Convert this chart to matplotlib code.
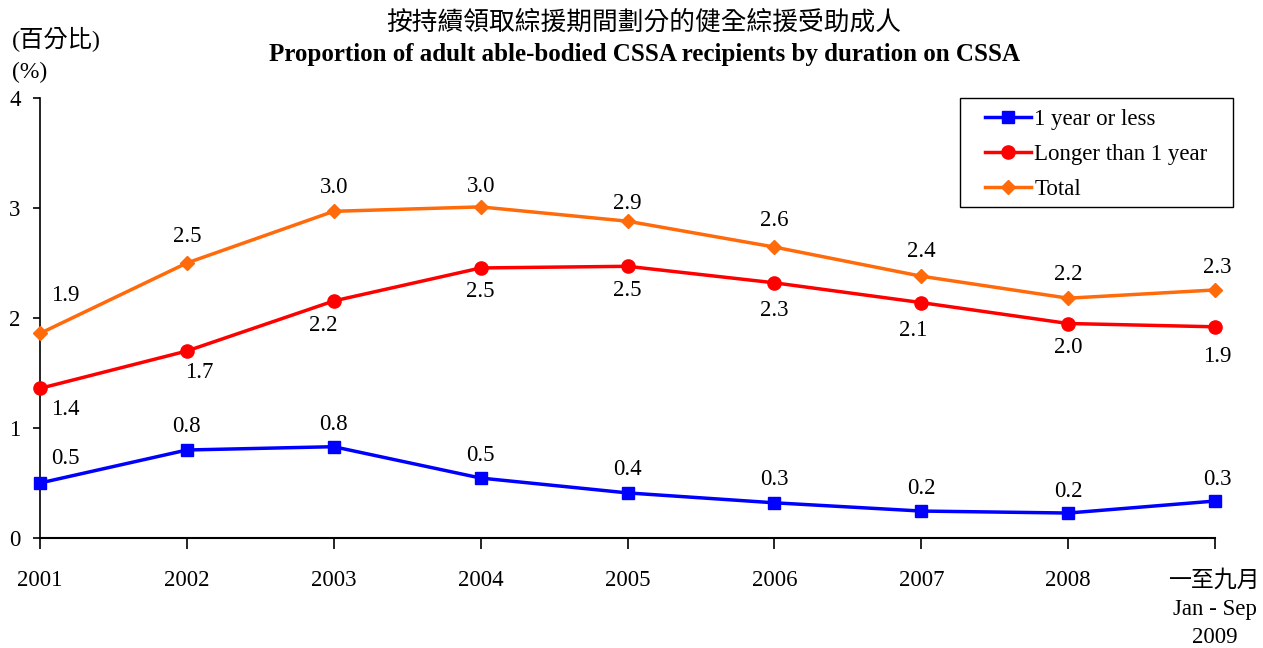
import matplotlib
matplotlib.use('Agg')
import matplotlib.pyplot as plt
from matplotlib.patches import Rectangle

plt.rcParams['font.family'] = ['Liberation Serif', 'Noto Sans CJK TC']

years = ['2001', '2002', '2003', '2004', '2005', '2006', '2007', '2008',
         '一至九月\nJan - Sep\n2009']
one_year_or_less = [0.50, 0.80, 0.83, 0.545, 0.41, 0.32, 0.245, 0.227, 0.336]
longer_than_1 = [1.36, 1.70, 2.155, 2.455, 2.47, 2.32, 2.14, 1.95, 1.92]
total = [1.86, 2.50, 2.97, 3.01, 2.88, 2.645, 2.38, 2.18, 2.255]

blue_labels = ['0.5', '0.8', '0.8', '0.5', '0.4', '0.3', '0.2', '0.2', '0.3']
red_labels = ['1.4', '1.7', '2.2', '2.5', '2.5', '2.3', '2.1', '2.0', '1.9']
orange_labels = ['1.9', '2.5', '3.0', '3.0', '2.9', '2.6', '2.4', '2.2', '2.3']

# label offsets in pixels (dx, dy)
blue_off = [(25, 25), (0, 23), (0, 22), (0, 23), (0, 23), (0, 23), (0, 23), (0, 22), (2, 22)]
red_off = [(25, -21), (12, -22), (-10, -25), (0, -24), (0, -24), (0, -28), (-8, -28), (0, -24), (2, -30)]
orange_off = [(25, 38), (0, 27), (0, 24), (0, 20), (0, 18), (0, 27), (0, 25), (0, 24), (2, 22)]

W, H = 1263, 648
fig = plt.figure(figsize=(W / 100, H / 100), dpi=100)
ax = fig.add_axes([40 / W, 1 - 538 / H, 1175 / W, 440 / H])

x = list(range(len(years)))
ax.plot(x, one_year_or_less, color='#0000FF', lw=2.5, marker='s', ms=9,
        label='1 year or less', clip_on=False, zorder=3)
ax.plot(x, longer_than_1, color='#FF0000', lw=2.5, marker='o', ms=9.5,
        label='Longer than 1 year', clip_on=False, zorder=3)
ax.plot(x, total, color='#FF6A0A', lw=2.5, marker='D', ms=7,
        label='Total', clip_on=False, zorder=3)

for vals, labs, offs in [(one_year_or_less, blue_labels, blue_off),
                         (longer_than_1, red_labels, red_off),
                         (total, orange_labels, orange_off)]:
    for i, (v, t, o) in enumerate(zip(vals, labs, offs)):
        ax.annotate(t, (i, v), xytext=o, textcoords='offset pixels',
                    ha='center', va='center', fontsize=16.5)

ax.set_xlim(0, 8)
ax.set_ylim(0, 4)
ax.set_yticks([0, 1, 2, 3, 4])
ax.set_xticks(x)
ax.set_xticklabels(years, fontsize=16.5, linespacing=1.45)
ax.tick_params(axis='y', labelsize=16.5, length=5, width=1.2, pad=9)
ax.tick_params(axis='x', length=8, width=1.2, pad=15)
ax.spines['top'].set_visible(False)
ax.spines['right'].set_visible(False)
ax.spines['left'].set_linewidth(1.2)
ax.spines['bottom'].set_linewidth(1.5)

# legend box drawn separately so the inner padding can match
fig.patches.append(Rectangle((960 / W, 1 - 207 / H), 273 / W, 109 / H,
                             transform=fig.transFigure, fill=False,
                             edgecolor='black', lw=1.0))
leg = ax.legend(loc='upper left', bbox_to_anchor=(985 / W, 1 - 109 / H),
                bbox_transform=fig.transFigure, fontsize=16.5, frameon=False,
                handlelength=2.0, borderpad=0, labelspacing=0.6,
                handletextpad=0.15, borderaxespad=0)

fig.text(0.51, 1 - 22 / H, '按持續領取綜援期間劃分的健全綜援受助成人',
         ha='center', va='center', fontsize=18.5)
fig.text(0.51, 1 - 55 / H, 'Proportion of adult able-bodied CSSA recipients by duration on CSSA',
         ha='center', va='center', fontsize=18, fontweight='bold')
fig.text(12 / W, 1 - 40 / H, '(百分比)', ha='left', va='center', fontsize=17.5)
fig.text(12 / W, 1 - 72 / H, '(%)', ha='left', va='center', fontsize=17)

fig.savefig('out.png', dpi=100)
